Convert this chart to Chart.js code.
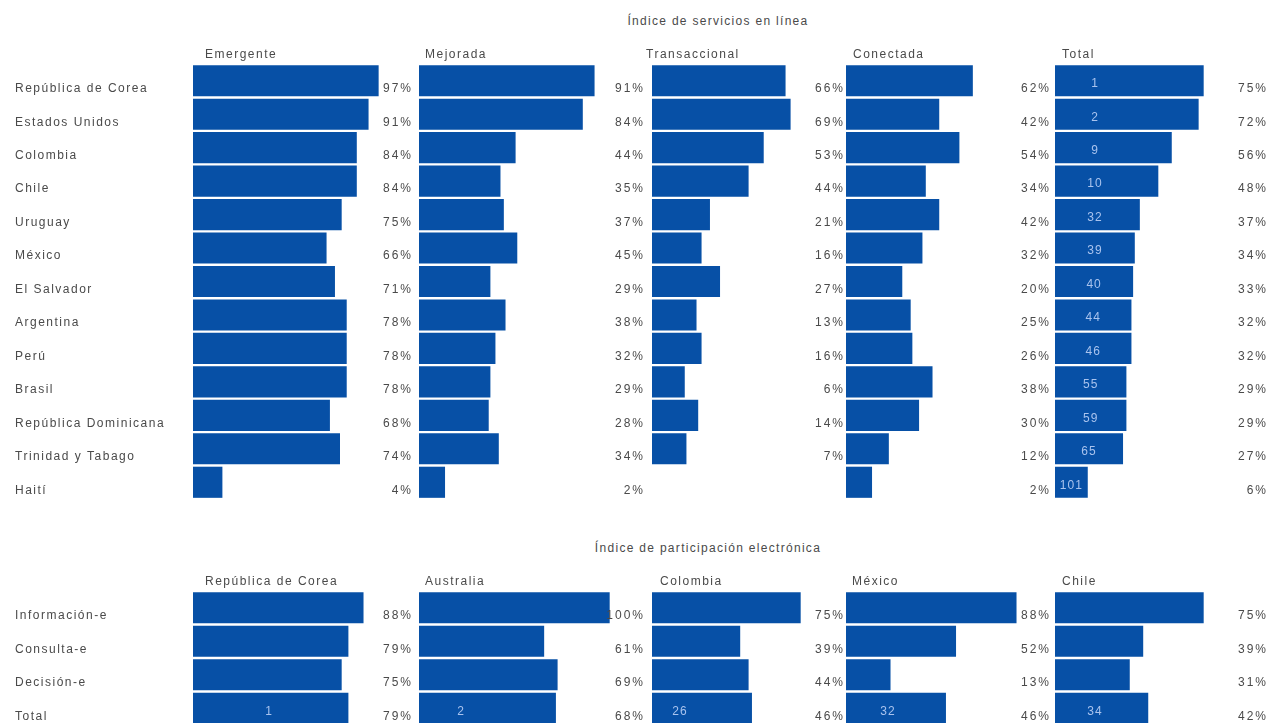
<!DOCTYPE html>
<html>
<head>
<meta charset="utf-8">
<script src="https://cdn.jsdelivr.net/npm/chart.js@4.4.1/dist/chart.umd.min.js"></script>
<style>
    body { margin: 0; width: 1268px; height: 723px; overflow: hidden; position: relative; background: #fff;
           font-family: "Liberation Sans", Arial, sans-serif; }
    canvas { position: absolute; }
    .titulo { position: absolute; color: #4a4a4a; font-size: 12px; letter-spacing: 1.3px;
              transform: translateX(-50%); white-space: nowrap; }
</style>
</head>
<body>
<div class="titulo" style="left:718px; top:14px">Índice de servicios en línea</div>
<div class="titulo" style="left:708px; top:541px">Índice de participación electrónica</div>

<script>
// Índice de servicios en línea
const paisesServicios = ['República de Corea', 'Estados Unidos', 'Colombia', 'Chile', 'Uruguay', 'México',
    'El Salvador', 'Argentina', 'Perú', 'Brasil', 'República Dominicana', 'Trinidad y Tabago', 'Haití'];
const etapas = ['Emergente', 'Mejorada', 'Transaccional', 'Conectada', 'Total'];
const emergente = [97, 91, 84, 84, 75, 66, 71, 78, 78, 78, 68, 74, 4];
const mejorada = [91, 84, 44, 35, 37, 45, 29, 38, 32, 29, 28, 34, 2];
const transaccional = [66, 69, 53, 44, 21, 16, 27, 13, 16, 6, 14, 7, null];
const conectada = [62, 42, 54, 34, 42, 32, 20, 25, 26, 38, 30, 12, 2];
const totalServicios = [75, 72, 56, 48, 37, 34, 33, 32, 32, 29, 29, 27, 6];
const rankingServicios = [1, 2, 9, 10, 32, 39, 40, 44, 46, 55, 59, 65, 101];

// Índice de participación electrónica
const tiposParticipacion = ['Información-e', 'Consulta-e', 'Decisión-e', 'Total'];
const paisesParticipacion = ['República de Corea', 'Australia', 'Colombia', 'México', 'Chile'];
const partCorea = [88, 79, 75, 79];
const partAustralia = [100, 61, 69, 68];
const partColombia = [75, 39, 44, 46];
const partMexico = [88, 52, 13, 46];
const partChile = [75, 39, 31, 42];
const rankingParticipacion = [1, 2, 26, 32, 34];

// Disposición de las columnas
const inicioBarras = [193, 419, 652, 846, 1055];
const bordeDerecho = [411, 643, 843, 1049, 1266];
const desplazEncabezado = [12, 6, -6, 7, 7];
const ejeMin = -13.5;
const pxPorPunto = 1.68;
const altoFila = 33.46;
const colorBarra = '#0750a6';
const colorTexto = '#4a4a4a';
const fuente = '12px "Liberation Sans", Arial, sans-serif';

const etiquetasPlugin = {
    id: 'etiquetas',
    afterDatasetsDraw(chart, args, opts) {
        const ctx = chart.ctx;
        const area = chart.chartArea;
        const y = chart.scales.y;
        const valores = chart.data.datasets[0].data;
        ctx.save();
        ctx.font = fuente;
        ctx.textBaseline = 'middle';
        ctx.fillStyle = colorTexto;

        // encabezado de la columna
        ctx.letterSpacing = '1.5px';
        ctx.textAlign = 'left';
        ctx.fillText(opts.encabezado, area.left + opts.dxEncabezado, 15);

        // nombres de las filas
        if (opts.filas) {
            chart.data.labels.forEach((lbl, i) => {
                ctx.fillText(lbl, 15, y.getPixelForValue(i) + 8);
            });
        }

        // porcentajes a la derecha
        ctx.letterSpacing = '2px';
        ctx.textAlign = 'right';
        valores.forEach((v, i) => {
            if (v === null) return;
            ctx.fillText(v + '%', area.right + 2, y.getPixelForValue(i) + 8);
        });

        // posición en el ranking dentro de la barra (nunca más allá del centro de la barra)
        if (opts.ranking) {
            const meta = chart.getDatasetMeta(0);
            ctx.fillStyle = '#a9c3ee';
            ctx.letterSpacing = '1px';
            ctx.textAlign = 'center';
            opts.ranking.forEach((r, i) => {
                if (r === null) return;
                const barra = meta.data[i];
                const centro = (barra.base + barra.x) / 2;
                const x = Math.min(area.left + opts.dxRanking, centro);
                ctx.fillText(String(r), x, y.getPixelForValue(i) + 3);
            });
        }
        ctx.restore();
    }
};

function crearPanel(col, top, filas, valores, encabezado, extra) {
    const padIzq = col === 0 ? inicioBarras[0] : 10;
    const padTop = 24;
    const padBottom = extra.padBottom;
    const ancho = bordeDerecho[col] - inicioBarras[col];
    const alto = padTop + filas.length * altoFila + padBottom;

    const canvas = document.createElement('canvas');
    canvas.width = ancho + padIzq;
    canvas.height = Math.round(alto);
    canvas.style.left = (inicioBarras[col] - padIzq) + 'px';
    canvas.style.top = top + 'px';
    document.body.appendChild(canvas);

    return new Chart(canvas, {
        type: 'bar',
        data: {
            labels: filas,
            datasets: [{
                data: valores,
                backgroundColor: colorBarra,
                base: ejeMin,
                barPercentage: 0.93,
                categoryPercentage: 1
            }]
        },
        options: {
            indexAxis: 'y',
            responsive: false,
            animation: false,
            layout: { padding: { left: padIzq, right: 0, top: padTop, bottom: padBottom } },
            scales: {
                x: { display: false, min: ejeMin, max: ejeMin + ancho / pxPorPunto },
                y: { display: false }
            },
            plugins: {
                legend: { display: false },
                tooltip: { enabled: false },
                etiquetas: {
                    encabezado: encabezado,
                    dxEncabezado: desplazEncabezado[col] + (extra.dxEnc || 0),
                    filas: col === 0,
                    ranking: extra.ranking || null,
                    dxRanking: extra.dxRanking || 40
                }
            }
        },
        plugins: [etiquetasPlugin]
    });
}

// Parte superior: servicios en línea
const seriesServicios = [emergente, mejorada, transaccional, conectada, totalServicios];
seriesServicios.forEach((serie, i) => {
    crearPanel(i, 40, paisesServicios, serie, etapas[i], {
        padBottom: 6,
        ranking: i === 4 ? rankingServicios : null,
        dxRanking: 40
    });
});

// Parte inferior: participación electrónica
const seriesParticipacion = [partCorea, partAustralia, partColombia, partMexico, partChile];
const dxRankingPart = [76, 42, 28, 42, 40];
const dxEncPart = [0, 0, 14, -1, 0];
seriesParticipacion.forEach((serie, i) => {
    crearPanel(i, 567, tiposParticipacion, serie, paisesParticipacion[i], {
        padBottom: 0,
        dxEnc: dxEncPart[i],
        ranking: [null, null, null, rankingParticipacion[i]],
        dxRanking: dxRankingPart[i]
    });
});
</script>
</body>
</html>
